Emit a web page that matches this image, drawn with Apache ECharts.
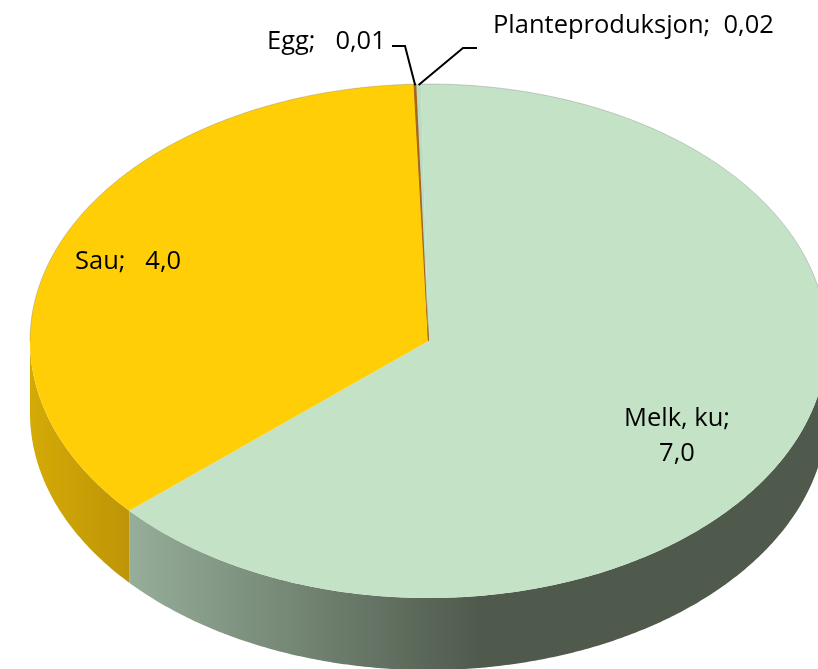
<!DOCTYPE html>
<html>
<head>
<meta charset="utf-8">
<style>
  html, body { margin: 0; padding: 0; background: #fff; }
  #chart { width: 818px; height: 669px; }
</style>
<script src="https://cdn.jsdelivr.net/npm/echarts@6/dist/echarts.min.js"></script>
</head>
<body>
<div id="chart"></div>
<script>
// clockwise from the top, same order as the sheet
const names = ["Melk, ku", "Sau", "Egg", "Planteproduksjon"];
const values = [7.04, 3.96, 0.01, 0.02];
const valueLabels = ["7,0", "4,0", "0,01", "0,02"];

// ellipse of the top face
const cx = 428.5, cy = 341, rx = 398.5, ry = 257, depth = 72;
const startAngle = -1.1;

const topColors = ["#c3e2c6", "#ffce07", "#a5641e", "#bcdcc0"];
const sideColors = [
  { x0: 128, x1: 480, from: "#96ae9a", to: "#4f5a4c" },
  { x0: 30, x1: 128, from: "#d4aa06", to: "#be9506" }
];

const total = values.reduce((a, b) => a + b, 0);
const slices = [];
let acc = startAngle;
values.forEach((v) => {
  const sweep = (v / total) * 360;
  slices.push({ from: acc, to: acc + sweep });
  acc += sweep;
});

function edgePoint(deg, dy) {
  const r = (deg * Math.PI) / 180;
  return [cx + rx * Math.sin(r), cy - ry * Math.cos(r) + (dy || 0)];
}

function arcPoints(from, to, dy) {
  const pts = [];
  const n = Math.max(2, Math.ceil((to - from) * 2));
  for (let i = 0; i <= n; i++) pts.push(edgePoint(from + ((to - from) * i) / n, dy));
  return pts;
}

function renderSide(params) {
  const s = slices[params.dataIndex];
  // only the front half of the rim can be seen
  const from = Math.max(s.from, 90), to = Math.min(s.to, 270);
  const style = sideColors[params.dataIndex];
  if (!style || to <= from) return { type: "group", children: [] };
  const points = arcPoints(from, to, 0).concat(arcPoints(from, to, depth).reverse());
  return {
    type: "polygon",
    shape: { points },
    style: {
      fill: new echarts.graphic.LinearGradient(style.x0, 0, style.x1, 0, [
        { offset: 0, color: style.from },
        { offset: 1, color: style.to }
      ], true)
    }
  };
}

function renderTop(params) {
  const i = params.dataIndex;
  const s = slices[i];
  const isWide = s.to - s.from > 2;
  const children = [{
    type: "polygon",
    shape: { points: [[cx, cy]].concat(arcPoints(s.from, s.to, 0)) },
    style: {
      fill: topColors[i],
      // the egg slice is under a degree wide, give it some body
      stroke: i === 2 ? topColors[i] : null,
      lineWidth: 1
    }
  }];
  // soft grey bevel on the back rim
  if (isWide) {
    const back = i === 0 ? [s.from, 90] : [270, s.to];
    children.push({
      type: "polyline",
      shape: { points: arcPoints(back[0], back[1], 0) },
      style: { stroke: "rgba(110,110,110,0.3)", lineWidth: 1, fill: null }
    });
  }
  return { type: "group", children };
}

// label anchors, in page pixels
const labelLines = [
  { lines: [names[0] + ";", valueLabels[0]], x: 677, y: 419, align: "center" },
  { lines: [names[1] + ";   " + valueLabels[1]], x: 75, y: 262, align: "left" },
  { lines: [names[2] + ";   " + valueLabels[2]], x: 267, y: 42, align: "left" },
  { lines: [names[3] + ";  " + valueLabels[3]], x: 493, y: 26, align: "left" }
];
const leaderStarts = [null, null, [[392, 46], [405, 46]], [[477, 48], [463, 48]]];

function renderLabel(params) {
  const i = params.dataIndex;
  const lab = labelLines[i];
  const children = lab.lines.map((t, k) => ({
    type: "text",
    style: {
      text: t,
      x: lab.x,
      y: lab.y + k * 35,
      align: lab.align,
      verticalAlign: "middle",
      font: "25.5px 'Open Sans'",
      fill: "#000"
    }
  }));
  if (leaderStarts[i]) {
    const mid = (slices[i].from + slices[i].to) / 2;
    children.push({
      type: "polyline",
      shape: { points: leaderStarts[i].concat([edgePoint(mid, 1)]) },
      style: { stroke: "#000", lineWidth: 2, fill: null }
    });
  }
  return { type: "group", children };
}

const chart = echarts.init(document.getElementById("chart"));
chart.setOption({
  animation: false,
  series: [
    { type: "custom", coordinateSystem: "none", data: values, renderItem: renderSide, silent: true, z: 1 },
    { type: "custom", coordinateSystem: "none", data: values, renderItem: renderTop, silent: true, z: 2 },
    { type: "custom", coordinateSystem: "none", data: values, renderItem: renderLabel, silent: true, z: 3 }
  ]
});
</script>
</body>
</html>
